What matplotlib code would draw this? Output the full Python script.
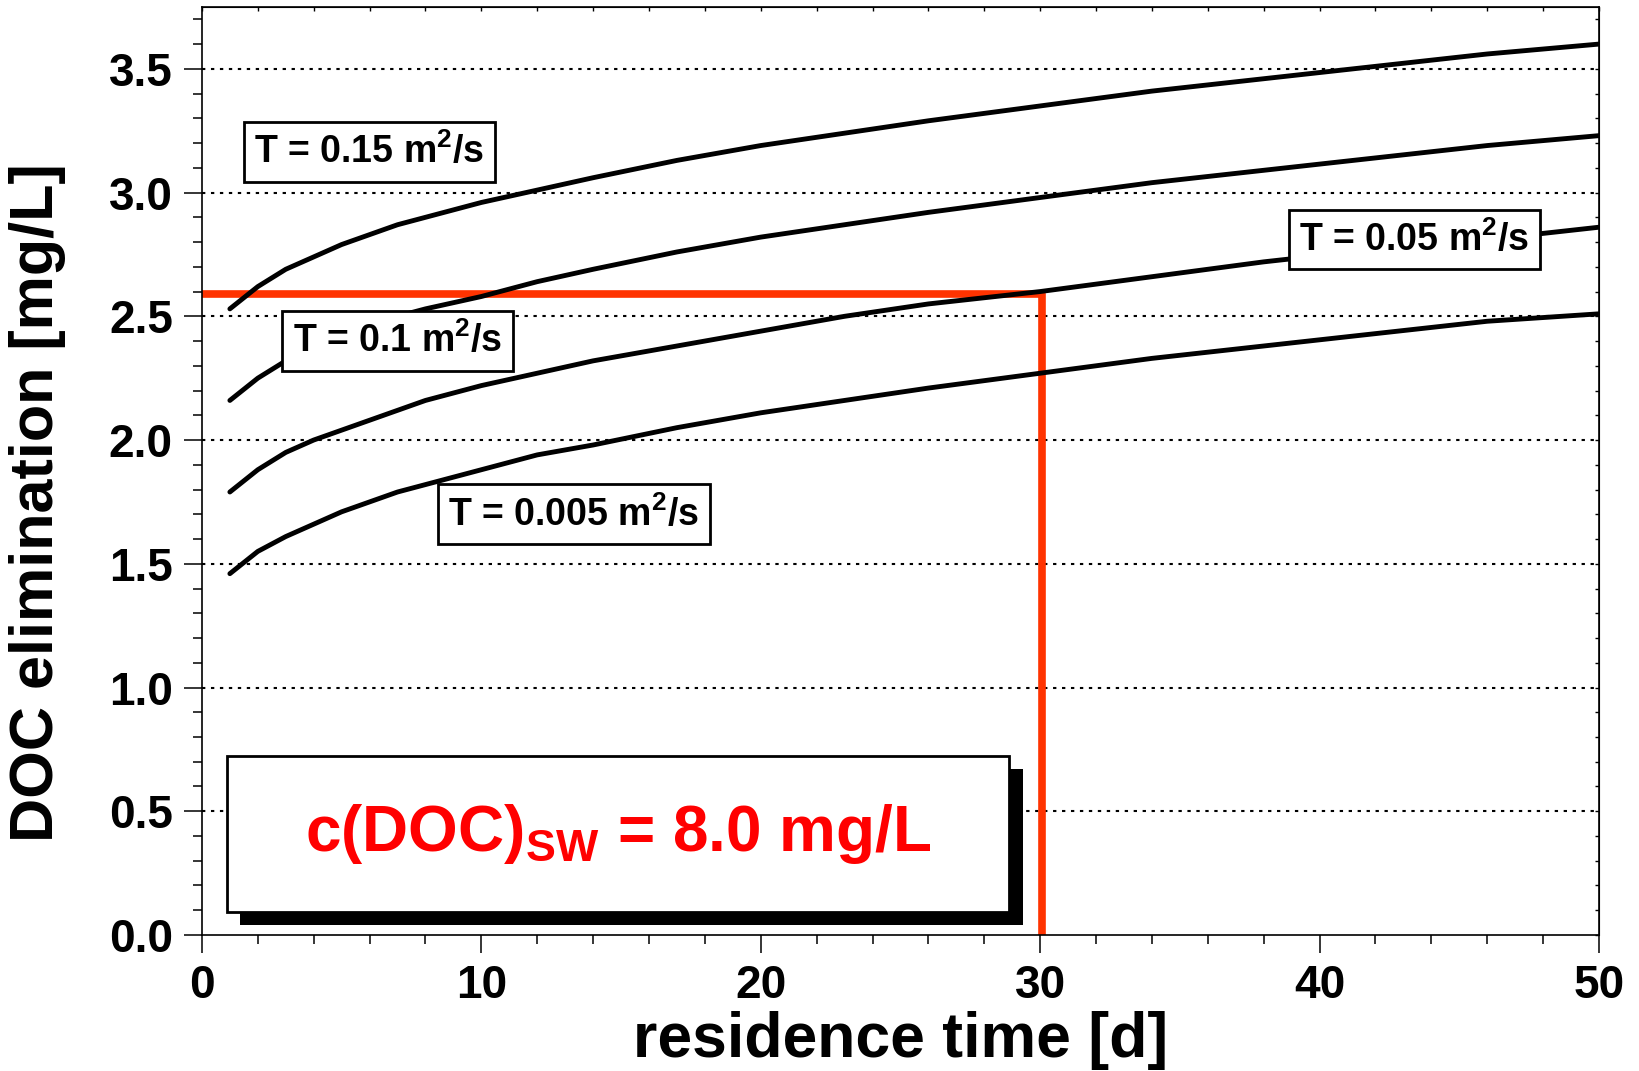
import matplotlib
matplotlib.use("Agg")
import matplotlib.pyplot as plt
import matplotlib.patheffects as pe
from matplotlib.patches import Rectangle
from matplotlib.ticker import MultipleLocator

# residence time [d] and DOC elimination [mg/L] for each transmissivity
days = [1, 2, 3, 4, 5, 6, 7, 8, 10, 12, 14, 17, 20, 23, 26, 30, 34, 38, 42, 46, 50]
doc_t015 = [2.53, 2.62, 2.69, 2.74, 2.79, 2.83, 2.87, 2.90, 2.96, 3.01, 3.06, 3.13, 3.19, 3.24, 3.29, 3.35, 3.41, 3.46, 3.51, 3.56, 3.60]
doc_t010 = [2.16, 2.25, 2.32, 2.37, 2.42, 2.46, 2.50, 2.53, 2.58, 2.64, 2.69, 2.76, 2.82, 2.87, 2.92, 2.98, 3.04, 3.09, 3.14, 3.19, 3.23]
doc_t005 = [1.79, 1.88, 1.95, 2.00, 2.04, 2.08, 2.12, 2.16, 2.22, 2.27, 2.32, 2.38, 2.44, 2.50, 2.55, 2.60, 2.66, 2.72, 2.77, 2.81, 2.86]
doc_t0005 = [1.46, 1.55, 1.61, 1.66, 1.71, 1.75, 1.79, 1.82, 1.88, 1.94, 1.98, 2.05, 2.11, 2.16, 2.21, 2.27, 2.33, 2.38, 2.43, 2.48, 2.51]

curve_labels = ["T = 0.15 m$^2$/s", "T = 0.1 m$^2$/s", "T = 0.05 m$^2$/s", "T = 0.005 m$^2$/s"]
# label anchor (x, y) in data units
label_pos = [(6.0, 3.165), (7.0, 2.40), (43.4, 2.81), (13.3, 1.70)]

# red reading line: 30 d -> 2.59 mg/L
read_x = [0, 30.05, 30.05]
read_y = [2.59, 2.59, 0]

plt.rcParams["font.family"] = ["Liberation Sans", "DejaVu Sans"]
plt.rcParams["font.weight"] = "bold"
plt.rcParams["mathtext.fontset"] = "custom"
plt.rcParams["mathtext.rm"] = "Liberation Sans:bold"
plt.rcParams["mathtext.it"] = "Liberation Sans:bold"
plt.rcParams["mathtext.bf"] = "Liberation Sans:bold"

fig = plt.figure(figsize=(16.39, 10.71), dpi=100)
ax = fig.add_axes([0.1232, 0.127, 0.8524, 0.8665])

ax.set_xlim(0, 50)
ax.set_ylim(0, 3.75)

# dotted horizontal grid at major y ticks
for gy in [0.5, 1.0, 1.5, 2.0, 2.5, 3.0, 3.5]:
    ax.axhline(gy, color="black", lw=1.5, linestyle=(0, (1.6, 2.7)), zorder=1)

ax.plot(read_x, read_y, color="#ff3300", lw=5.5, solid_joinstyle="round", zorder=2)

for series in [doc_t015, doc_t010, doc_t005, doc_t0005]:
    ax.plot(days, series, color="black", lw=3.5, solid_capstyle="round", zorder=3)

for text, (lx, ly) in zip(curve_labels, label_pos):
    ax.text(lx, ly, text, fontsize=27, fontweight="bold", ha="center", va="center", zorder=5,
            bbox=dict(boxstyle="square,pad=0.28", facecolor="white", edgecolor="black", linewidth=2))

# concentration box with drop shadow
box = Rectangle((0.9, 0.093), 28.0, 0.63, facecolor="white", edgecolor="black", linewidth=2, zorder=6)
box.set_path_effects([pe.SimplePatchShadow(offset=(9.5, -9.5), shadow_rgbFace="black", alpha=1), pe.Normal()])
ax.add_patch(box)
ax.text(14.9, 0.41, "c(DOC)$_{\\mathrm{SW}}$ = 8.0 mg/L", color="#ff0000", fontsize=46, fontweight="bold",
        ha="center", va="center", zorder=7)

# ticks
ax.xaxis.set_major_locator(MultipleLocator(10))
ax.xaxis.set_minor_locator(MultipleLocator(2))
ax.yaxis.set_major_locator(MultipleLocator(0.5))
ax.yaxis.set_minor_locator(MultipleLocator(0.1))
ax.tick_params(which="major", direction="out", length=13, width=1.1, labelsize=33, pad=8)
ax.tick_params(which="minor", direction="out", length=6.5, width=1.1)
ax.tick_params(top=False, right=False)
for lab in ax.get_xticklabels() + ax.get_yticklabels():
    lab.set_fontweight("bold")

top = ax.secondary_xaxis("top")
top.xaxis.set_major_locator(MultipleLocator(2))
top.tick_params(direction="in", length=3, width=1, labeltop=False)
right = ax.secondary_yaxis("right")
right.yaxis.set_major_locator(MultipleLocator(0.1))
right.tick_params(direction="in", length=3, width=1, labelright=False)

for sp in ax.spines.values():
    sp.set_linewidth(1.2)

ax.set_xlabel("residence time [d]", fontsize=45, fontweight="bold")
ax.set_ylabel("DOC elimination [mg/L]", fontsize=44, fontweight="bold")
ax.xaxis.set_label_coords(0.5, -0.082)
ax.yaxis.set_label_coords(-0.097, 0.466)

fig.savefig("out.png", dpi=100)
